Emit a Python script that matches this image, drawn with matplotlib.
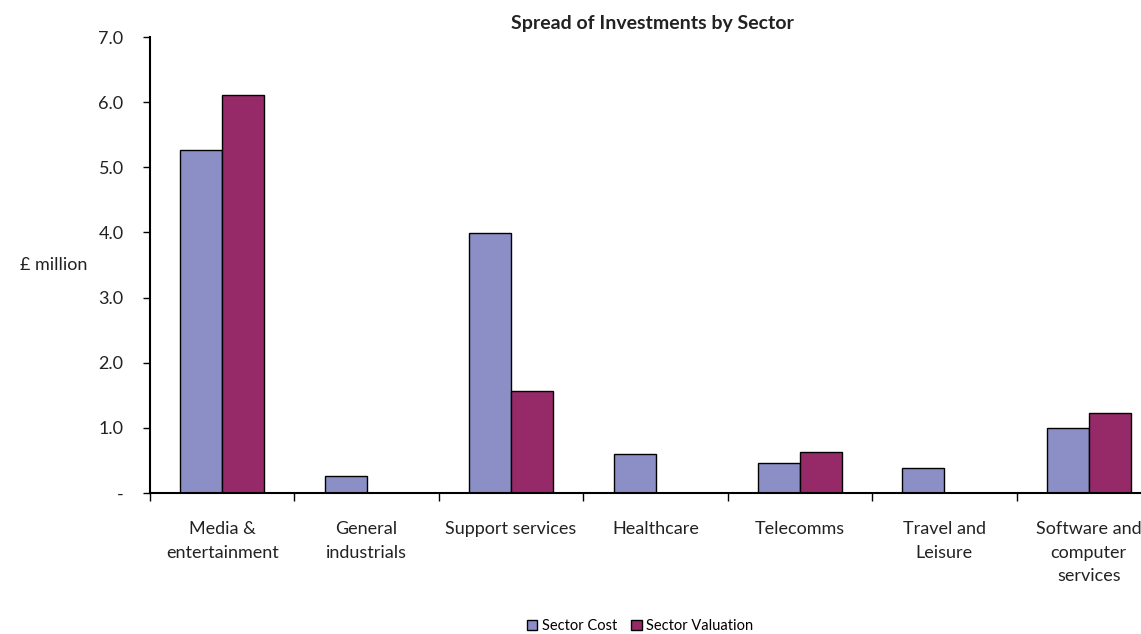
import numpy as np
import matplotlib.pyplot as plt

sectors = ['Media &\nentertainment', 'General\nindustrials', 'Support services', 'Healthcare',
           'Telecomms', 'Travel and\nLeisure', 'Software and\ncomputer\nservices']
cost = [5.27, 0.26, 3.99, 0.60, 0.46, 0.38, 1.00]
valuation = [6.11, 0.0, 1.57, 0.0, 0.63, 0.0, 1.23]
yticks = [0, 1, 2, 3, 4, 5, 6, 7]
ytick_labels = ['-', '1.0', '2.0', '3.0', '4.0', '5.0', '6.0', '7.0']

plt.rcParams['font.family'] = ['Lato', 'DejaVu Sans']

fig = plt.figure(figsize=(11.41, 6.34), dpi=100)
ax = fig.add_axes([150/1141, 141/634, 1011/1141, 456/634])

x = np.arange(len(sectors))
w = 0.29
ax.bar(x - w/2, cost, w, color='#8B8FC6', edgecolor='black', linewidth=1, label='Sector Cost')
ax.bar(x + w/2, valuation, w, color='#962A68', edgecolor='black', linewidth=1, label='Sector Valuation')

ax.set_xlim(-0.5, len(sectors) - 0.5)
ax.set_ylim(0, 7)
ax.set_yticks(yticks)
ax.set_yticklabels(ytick_labels, fontsize=13, color='#222222')
ax.set_xticks(np.arange(len(sectors) + 1) - 0.5)
ax.set_xticklabels([])
ax.set_xticks(x, minor=True)
ax.set_xticklabels(sectors, minor=True, fontsize=13, color='#222222', va='top', linespacing=1.6)
ax.tick_params(axis='x', which='minor', length=0, pad=20)
ax.tick_params(axis='x', which='major', length=6, width=1, direction='out')
ax.tick_params(axis='y', length=5, width=1, pad=14)

ax.spines['top'].set_visible(False)
ax.spines['right'].set_visible(False)
ax.spines['left'].set_linewidth(1.5)
ax.spines['bottom'].set_linewidth(1.5)

ax.set_ylabel('£ million', rotation=0, fontsize=13, color='#222222', va='center')
ax.yaxis.set_label_coords(-0.095, 0.5)

fig.text(652/1141, 1 - 23/634, 'Spread of Investments by Sector', ha='center', va='center',
         fontsize=14, fontweight='bold', color='#222222')

fig.legend(loc='center', bbox_to_anchor=(640/1141, 1 - 626/634), ncol=2, frameon=False,
           fontsize=10.5, handlelength=0.7, handleheight=0.7, handletextpad=0.3, columnspacing=1.0)

fig.savefig('out.png', dpi=100)
